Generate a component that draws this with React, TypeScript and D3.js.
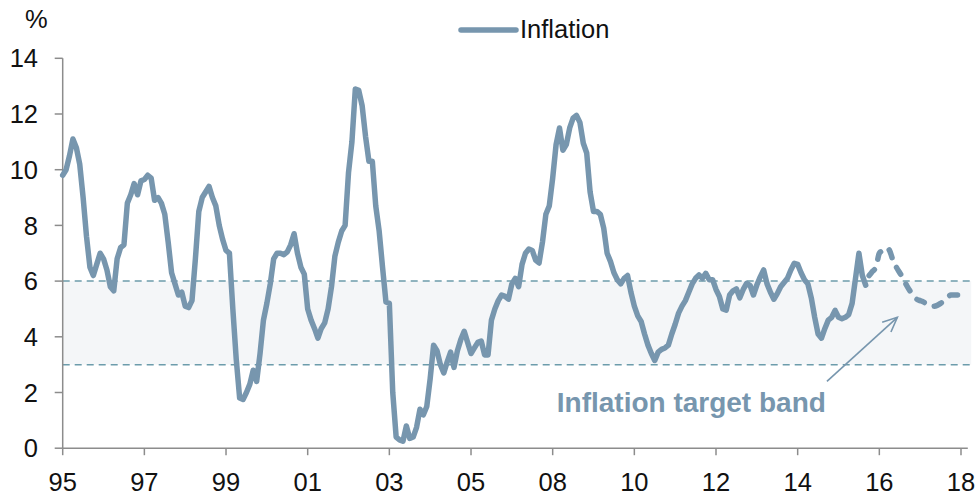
import React from "react";
import * as d3 from "d3";

// monthly inflation, one row per year of the series
const inflation = [
  9.8, 10.0, 10.5, 11.1, 10.8, 10.2, 9.0, 7.6, 6.5, 6.2, 6.6, 7.0,
  6.8, 6.4, 5.8, 5.65, 6.8, 7.2, 7.3, 8.8, 9.1, 9.5, 9.1, 9.6,
  9.65, 9.8, 9.7, 8.9, 9.0, 8.8, 8.4, 7.4, 6.3, 5.9, 5.5, 5.6,
  5.1, 5.05, 5.3, 6.8, 8.5, 9.0, 9.2, 9.4, 9.0, 8.7, 8.0, 7.5,
  7.1, 7.0, 5.0, 3.2, 1.8, 1.75, 2.0, 2.3, 2.8, 2.4, 3.4, 4.6,
  5.2, 5.9, 6.8, 7.0, 7.0, 6.95, 7.05, 7.3, 7.7, 7.0, 6.5, 6.25,
  5.0, 4.6, 4.3, 3.95, 4.3, 4.5, 5.0, 5.8, 6.9, 7.4, 7.8, 8.0,
  9.9, 11.0, 12.9, 12.85, 12.3, 11.2, 10.3, 10.3, 8.7, 7.8, 6.5, 5.25,
  5.2, 2.0, 0.4, 0.3, 0.25, 0.8, 0.35, 0.4, 0.75, 1.4, 1.2, 1.5,
  2.5, 3.7, 3.5, 3.0, 2.7, 3.1, 3.45, 2.9, 3.5, 3.9, 4.2, 3.8,
  3.4, 3.6, 3.8, 3.85, 3.35, 3.35, 4.6, 5.0, 5.3, 5.5, 5.45, 5.35,
  5.9, 6.1, 5.8, 6.6, 7.0, 7.15, 7.1, 6.75, 6.65, 7.4, 8.4, 8.7,
  9.7, 10.9, 11.5, 10.7, 10.9, 11.5, 11.85, 11.95, 11.7, 10.95, 10.6, 9.2,
  8.5, 8.5, 8.4, 7.9, 7.0, 6.7, 6.3, 6.05, 5.9, 6.1, 6.2, 5.6,
  5.1, 4.75, 4.55, 4.1, 3.7, 3.4, 3.15, 3.45, 3.55, 3.6, 3.7, 4.1,
  4.45, 4.85, 5.1, 5.3, 5.6, 5.9, 6.1, 6.22, 6.1, 6.28, 6.05, 6.05,
  5.7, 5.45, 5.0, 4.96, 5.5, 5.65, 5.72, 5.4, 5.7, 5.92, 5.85, 5.5,
  5.86, 6.15, 6.4, 5.9, 5.6, 5.35, 5.55, 5.8, 5.95, 6.1, 6.4, 6.64,
  6.6, 6.3, 6.05, 5.9, 5.4, 4.7, 4.1, 3.95, 4.3, 4.6, 4.7, 4.95,
  4.7, 4.65, 4.7, 4.8, 5.2, 6.1, 7.0, 6.2, 5.85,
];

// projection, continues after the last observed month
const forecastStart = 237;
const forecast = [
  6.2, 6.35, 6.5, 7.0, 7.1, 7.2, 7.1, 6.75, 6.5, 6.3, 6.1, 5.85,
  5.65, 5.5, 5.35, 5.3, 5.25, 5.15, 5.1, 5.1, 5.13, 5.2, 5.3, 5.4,
  5.5, 5.5, 5.5, 5.5, 5.5, 5.5,
];

const tickLabels = ["95", "97", "99", "01", "03", "05", "08", "10", "12", "14", "16", "18"];
const yTicks = [0, 2, 4, 6, 8, 10, 12, 14];
const bandLow = 3;
const bandHigh = 6;

const width = 979;
const height = 496;
const color = "#7796ae";
const bandColor = "#6c9cab";
const axisColor = "#8c8c8c";
const font = "'Liberation Sans', Arial, Helvetica, sans-serif";

const x = d3.scaleLinear().domain([0, 266]).range([62.7, 967.8]);
const y = d3.scaleLinear().domain([0, 14]).range([448.2, 58.3]);

const App = () => {
  const line = d3
    .line<number>()
    .x((d, i) => x(i))
    .y((d) => y(d));

  const fline = d3
    .line<number>()
    .x((d, i) => x(forecastStart + i))
    .y((d) => y(d))
    .curve(d3.curveMonotoneX);

  const bandRight = x(267);

  // arrow pointing at the band
  const tip = [x(245.3), y(4.7)];
  const tail = [x(224.6), y(2.4)];
  const ang = Math.atan2(tip[1] - tail[1], tip[0] - tail[0]);
  const head = 16;
  const spread = 0.42;
  const h1 = [tip[0] - head * Math.cos(ang - spread), tip[1] - head * Math.sin(ang - spread)];
  const h2 = [tip[0] - head * Math.cos(ang + spread), tip[1] - head * Math.sin(ang + spread)];

  return (
    <svg
      width={width}
      height={height}
      style={{ position: "absolute", left: 0, top: 0, background: "#fff" }}
      fontFamily={font}
    >
      {/* target band */}
      <rect
        x={x(0)}
        y={y(bandHigh)}
        width={bandRight - x(0)}
        height={y(bandLow) - y(bandHigh)}
        fill="#f4f6f8"
      />
      {[bandLow, bandHigh].map((v) => (
        <line
          key={v}
          x1={x(0)}
          x2={bandRight}
          y1={y(v)}
          y2={y(v)}
          stroke={bandColor}
          strokeWidth={1.5}
          strokeDasharray="7 5"
        />
      ))}

      {/* axes */}
      <line x1={x(0)} x2={x(0)} y1={y(0)} y2={y(14)} stroke={axisColor} strokeWidth={1.5} />
      {yTicks.map((t) => (
        <g key={t}>
          <line x1={x(0) - 8} x2={x(0)} y1={y(t)} y2={y(t)} stroke={axisColor} strokeWidth={1.5} />
          <text x={38} y={y(t)} dy="0.36em" textAnchor="end" fontSize={25.5} fill="#111">
            {t}
          </text>
        </g>
      ))}
      <line x1={x(0)} x2={x(266)} y1={y(0)} y2={y(0)} stroke={axisColor} strokeWidth={1.5} />
      {tickLabels.map((l, i) => (
        <g key={l}>
          <line x1={x(i * 24)} x2={x(i * 24)} y1={y(0)} y2={y(0) + 7} stroke={axisColor} strokeWidth={1.5} />
          <text x={x(i * 24)} y={491} textAnchor="middle" fontSize={25.5} fill="#111">
            {l}
          </text>
        </g>
      ))}
      <text x={25} y={28} fontSize={25.5} fill="#111">
        %
      </text>

      {/* series */}
      <path
        d={line(inflation) || ""}
        fill="none"
        stroke={color}
        strokeWidth={5.5}
        strokeLinejoin="round"
        strokeLinecap="round"
      />
      <path
        d={fline(forecast) || ""}
        fill="none"
        stroke={color}
        strokeWidth={5.5}
        strokeLinecap="round"
        strokeDasharray="8 11"
      />

      {/* legend */}
      <line x1={461} x2={516} y1={30} y2={30} stroke={color} strokeWidth={5.5} strokeLinecap="round" />
      <text x={520} y={38} fontSize={25.5} fill="#111">
        Inflation
      </text>

      {/* annotation */}
      <text x={x(145.2)} y={411.7} fontSize={28} fontWeight="bold" fill={color}>
        Inflation target band
      </text>
      <line x1={tail[0]} y1={tail[1]} x2={tip[0]} y2={tip[1]} stroke={color} strokeWidth={1.6} />
      <polyline
        points={`${h1[0]},${h1[1]} ${tip[0]},${tip[1]} ${h2[0]},${h2[1]}`}
        fill="none"
        stroke={color}
        strokeWidth={1.6}
      />
    </svg>
  );
};

export default App;
